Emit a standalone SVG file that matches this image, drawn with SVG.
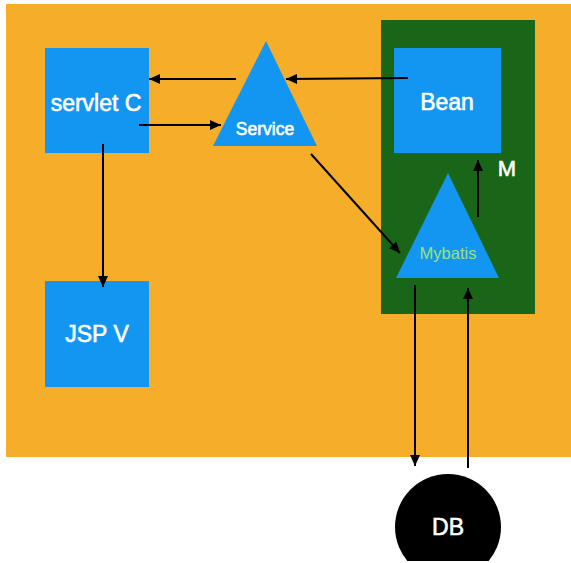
<svg xmlns="http://www.w3.org/2000/svg" width="571" height="563" viewBox="0 0 571 563">
<style>
.t{font-family:"Liberation Sans",Arial,sans-serif;fill:#ffffff;stroke:#ffffff;stroke-width:0.6;text-anchor:middle}
.box{fill:#1296F1}
.ln{stroke:#000;stroke-width:2;fill:none}
</style>
<defs>
<marker id="ah" markerUnits="userSpaceOnUse" markerWidth="11" markerHeight="10" refX="11" refY="5" orient="auto">
<path d="M0,0 L11,5 L0,10 z" fill="#000"/>
</marker>
<clipPath id="clipb"><rect x="0" y="0" width="571" height="561"/></clipPath>
</defs>
<rect width="571" height="563" fill="#ffffff"/>
<rect id="background" x="6" y="4" width="565" height="453" fill="#F6AD2A"/>
<g id="model-M">
<rect x="381" y="20" width="154" height="294" fill="#196619"/>
<text class="t" x="507" y="176" font-size="22">M</text>
</g>
<g id="servlet-c">
<rect class="box" x="45" y="48" width="104" height="105"/>
<text class="t" x="96" y="111" font-size="23">servlet C</text>
</g>
<g id="jsp-v">
<rect class="box" x="45" y="281" width="104" height="106"/>
<text class="t" x="97" y="342" font-size="23">JSP V</text>
</g>
<g id="service">
<polygon class="box" points="266,41 317,146 213,146"/>
<text class="t" x="265" y="135" font-size="17.5">Service</text>
</g>
<g id="bean">
<rect class="box" x="394" y="48" width="107" height="105"/>
<text class="t" x="447" y="110" font-size="23">Bean</text>
</g>
<g id="mybatis">
<polygon class="box" points="448,173 499,278 396,278"/>
<text class="t" x="448" y="259" font-size="16.5" style="fill:#9FE07A;stroke:none">Mybatis</text>
</g>
<g id="db" clip-path="url(#clipb)">
<circle cx="448" cy="527" r="53" fill="#000"/>
<text class="t" x="448" y="535" font-size="23">DB</text>
</g>
<g id="connectors">
<line class="ln" x1="236" y1="79" x2="149" y2="79" marker-end="url(#ah)"/>
<line class="ln" x1="408" y1="78" x2="286" y2="79" marker-end="url(#ah)"/>
<line class="ln" x1="139" y1="125" x2="221" y2="125" marker-end="url(#ah)"/>
<line class="ln" x1="103" y1="144" x2="103" y2="287" marker-end="url(#ah)"/>
<line class="ln" x1="311" y1="154" x2="400" y2="253" marker-end="url(#ah)"/>
<line class="ln" x1="478" y1="217" x2="478" y2="160" marker-end="url(#ah)"/>
<line class="ln" x1="415" y1="285" x2="415" y2="466" marker-end="url(#ah)"/>
<line class="ln" x1="468" y1="468" x2="468" y2="288" marker-end="url(#ah)"/>
</g>
</svg>
